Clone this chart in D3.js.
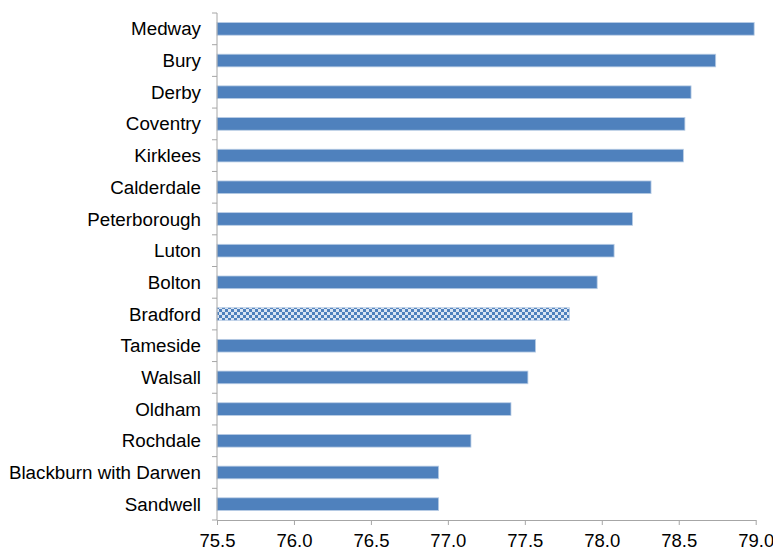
<!DOCTYPE html>
<html>
<head>
<script src="https://d3js.org/d3.v7.min.js"></script>
<style>
body { margin: 0; background: white; }
text { font-family: "Liberation Sans", Arial, sans-serif; fill: #000; }
</style>
</head>
<body>
<script>
// areas, top to bottom
var areas = ["Medway", "Bury", "Derby", "Coventry", "Kirklees", "Calderdale",
  "Peterborough", "Luton", "Bolton", "Bradford", "Tameside", "Walsall",
  "Oldham", "Rochdale", "Blackburn with Darwen", "Sandwell"];
var values = [78.99, 78.74, 78.58, 78.54, 78.53, 78.32, 78.20, 78.08, 77.97,
  77.79, 77.57, 77.52, 77.41, 77.15, 76.94, 76.94];
var xTicks = [75.5, 76.0, 76.5, 77.0, 77.5, 78.0, 78.5, 79.0];
var highlight = "Bradford";

var width = 773, height = 550;
var plotL = 217, plotR = 755.7, plotT = 13, plotB = 520;

var svg = d3.select("body").append("svg")
  .attr("width", width).attr("height", height);

var defs = svg.append("defs");
var pat = defs.append("pattern").attr("id", "checks")
  .attr("patternUnits", "userSpaceOnUse")
  .attr("width", 6).attr("height", 6);
pat.append("rect").attr("width", 6).attr("height", 6).attr("fill", "#dbe5f3");
pat.append("rect").attr("width", 3).attr("height", 3).attr("fill", "#4f81bd");
pat.append("rect").attr("x", 3).attr("y", 3).attr("width", 3).attr("height", 3).attr("fill", "#4f81bd");

var x = d3.scaleLinear().domain([75.5, 79.0]).range([plotL, plotR]);
var y = d3.scaleBand().domain(areas).range([plotT, plotB]).paddingInner(0.6).paddingOuter(0.3);

// bars
svg.append("g").selectAll("rect")
  .data(areas)
  .enter()
  .append("rect")
  .attr("x", x(75.5))
  .attr("y", function(d) { return y(d); })
  .attr("width", function(d, i) { return x(values[i]) - x(75.5); })
  .attr("height", y.bandwidth())
  .attr("fill", function(d) { return d == highlight ? "url(#checks)" : "#4f81bd"; })
  .attr("stroke", "#b9cde5")
  .attr("stroke-width", 0.8);

// x axis
var xAxis = svg.append("g")
  .attr("transform", "translate(0," + plotB + ")")
  .call(d3.axisBottom(x).tickValues(xTicks).tickFormat(d3.format(".1f")).tickSizeInner(5).tickSizeOuter(0).tickPadding(6));
xAxis.select(".domain").attr("stroke", "#a6a6a6");
xAxis.selectAll("line").attr("stroke", "#a6a6a6");
xAxis.selectAll("text").attr("font-size", 18.5).attr("dy", "0.85em");

// y axis - ticks at band edges
var edges = d3.range(areas.length + 1).map(function(i) { return plotT + i * (plotB - plotT) / areas.length; });
var yAxis = svg.append("g");
yAxis.append("line")
  .attr("x1", plotL).attr("x2", plotL)
  .attr("y1", plotT).attr("y2", plotB)
  .attr("stroke", "#a6a6a6");
yAxis.selectAll(".tk")
  .data(edges)
  .enter()
  .append("line")
  .attr("class", "tk")
  .attr("x1", plotL - 5).attr("x2", plotL)
  .attr("y1", function(d) { return d; }).attr("y2", function(d) { return d; })
  .attr("stroke", "#a6a6a6");
yAxis.selectAll(".lbl")
  .data(areas)
  .enter()
  .append("text")
  .attr("class", "lbl")
  .attr("x", 201)
  .attr("y", function(d) { return y(d) + y.bandwidth() / 2; })
  .attr("dy", "0.35em")
  .attr("text-anchor", "end")
  .attr("font-size", 18.8)
  .text(function(d) { return d; });
</script>
</body>
</html>
